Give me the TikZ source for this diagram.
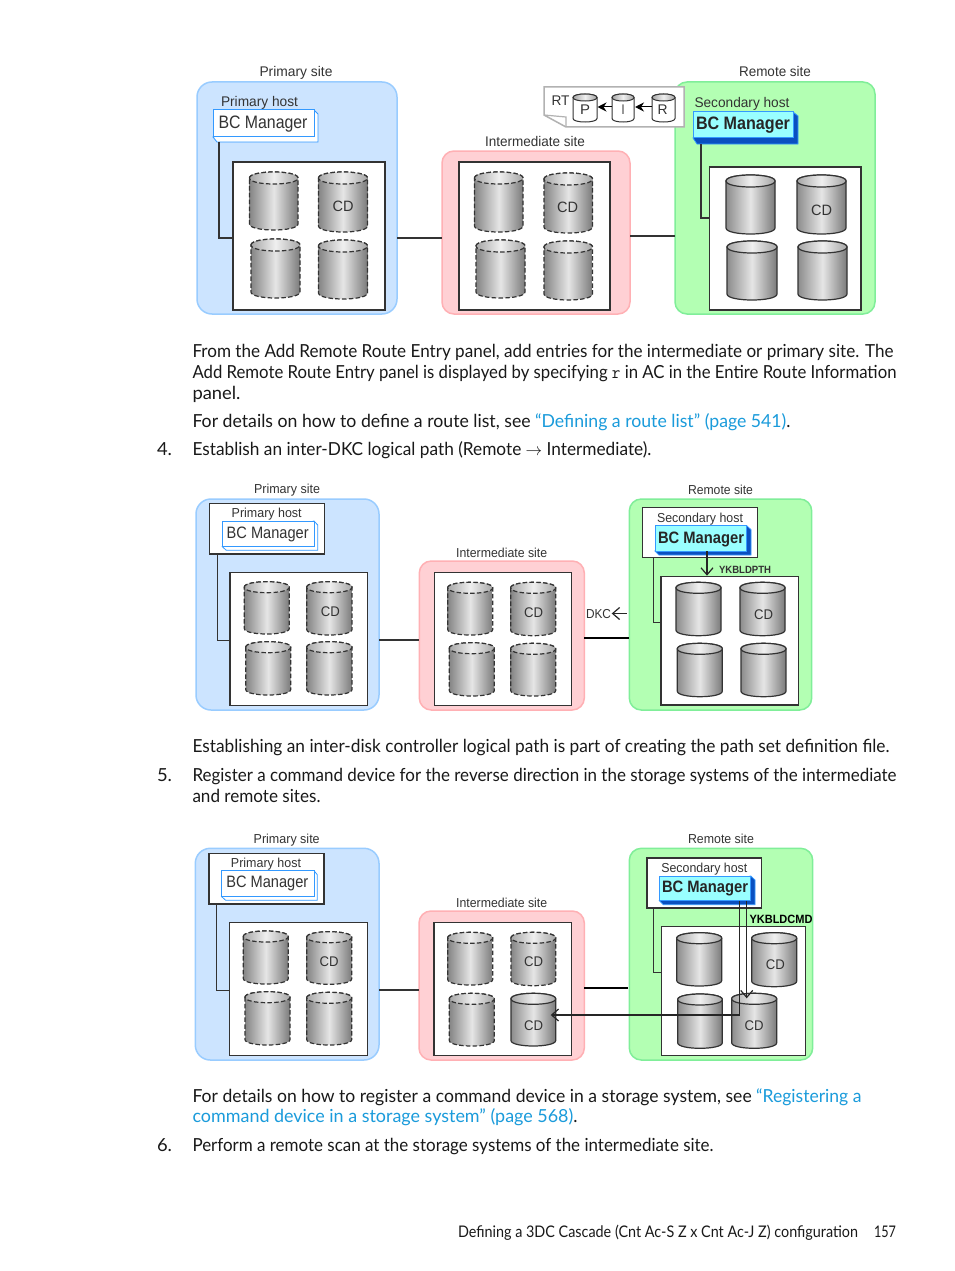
\documentclass[tikz,border=0pt]{standalone}
\usepackage{fontspec}
\usepackage{graphicx}
\setmainfont{Lato}
\newfontfamily\dgf{Liberation Sans}
\usetikzlibrary{arrows.meta}
\definecolor{siteB}{HTML}{CCE4FF}\definecolor{siteBl}{HTML}{99CCFF}
\definecolor{siteR}{HTML}{FFD0D4}\definecolor{siteRl}{HTML}{FFB0B4}
\definecolor{siteG}{HTML}{B3FFB3}\definecolor{siteGl}{HTML}{80EE99}
\definecolor{linkc}{HTML}{1A9BDB}\definecolor{dk}{HTML}{333333}
\definecolor{cyanf}{HTML}{99FFFF}\definecolor{bcb}{HTML}{3399FF}\definecolor{bcd}{HTML}{0A50C0}
\tikzset{
  x=1pt,y=-1pt,
  boxn/.style={draw,inner sep=0pt,outer sep=0pt,anchor=north west},
  sitebl/.style={boxn,fill=siteB,draw=siteBl,line width=1.5pt,rounded corners=15pt},
  sitered/.style={boxn,fill=siteR,draw=siteRl,line width=1.5pt,rounded corners=12pt},
  sitegr/.style={boxn,fill=siteG,draw=siteGl,line width=1.5pt,rounded corners=12pt},
  store/.style={boxn,fill=white,draw=dk,line width=1.2pt},
  hostb/.style={boxn,fill=white,draw=dk,line width=1.2pt},
  conn/.style={draw=dk,line width=1.2pt},
  thick link/.style={draw=black,line width=2.2pt},
  arr/.style={draw=black!85,line width=1.2pt,-{Straight Barb[length=7pt,width=12pt]}},
  fillarr/.style={draw=black,line width=1pt,-{Stealth[length=9pt,width=9pt]}},
  dcyl/.style={draw=dk,line width=1.2pt,dash pattern=on 4.5pt off 2.3pt,left color=black!48,right color=black!52,middle color=black!10},
  scyl/.style={draw=dk,line width=1.2pt,left color=black!45,right color=black!52,middle color=black!10},
  mcyl/.style={draw=dk,line width=1pt,left color=white,right color=white,middle color=white},
  ctop/.style={left color=black!35,right color=black!35,middle color=black!6},
  lab/.style={inner sep=0pt,outer sep=0pt,text=dk,font=\dgf,yshift=-1.5pt},
  body/.style={inner sep=0pt,outer sep=0pt,anchor=base west,text=black!90},
}
\newcommand{\bx}[6]{% name style x0 y0 x1 y1
  \pgfmathsetmacro\bxw{#5-#3}\pgfmathsetmacro\bxh{#6-#4}
  \node[#2,minimum width=\bxw pt,minimum height=\bxh pt] (#1) at (#3,#4) {};}
\newcommand{\cyl}[6]{% x0 y0 x1 y1 ry style
  \pgfmathsetmacro\cya{#2+#5}\pgfmathsetmacro\cyb{#4-#5}
  \pgfmathsetmacro\cyc{#2+#5-#5*4/3}\pgfmathsetmacro\cyd{#2+#5+#5*4/3}\pgfmathsetmacro\cye{#4-#5+#5*4/3}
  \path[#6] (#1,\cya) .. controls (#1,\cyc) and (#3,\cyc) .. (#3,\cya) -- (#3,\cyb)
     .. controls (#3,\cye) and (#1,\cye) .. (#1,\cyb) -- cycle;
  \path[#6,ctop] (#1,\cya) .. controls (#1,\cyc) and (#3,\cyc) .. (#3,\cya)
     .. controls (#3,\cyd) and (#1,\cyd) .. (#1,\cya) -- cycle;}
\newcommand{\bcbox}[9]{% name x0 y0 x1 y1 x2 y2 frontstyle sidecolor
  \pgfmathsetmacro\bca{#3+4}\pgfmathsetmacro\bcb{#2+4}
  \path[fill=#9,draw=bcb,line width=.8pt] (#4,#3) -- (#6,\bca) -- (#6,#7) -- (\bcb,#7) -- (#2,#5) -- cycle;
  \bx{#1}{#8}{#2}{#3}{#4}{#5}}
\newcommand{\fw}[2]{\resizebox{#1pt}{\height}{#2}}
\newcommand{\lt}[7]{\node[lab,#7] (#1) at (#2,#3) {\fontsize{#5}{#5}\selectfont\fw{#4}{\vphantom{Hg}#6}};}
\newcommand{\tx}[5]{\node[body] (#1) at (#2,#3) {\fontsize{18}{18}\selectfont\fw{#4}{#5}};}
\tikzset{bcwhite/.style={boxn,fill=white,draw=bcb,line width=1pt},bccyan/.style={boxn,fill=cyanf,draw=bcb,line width=1pt}}
\begin{document}
\begin{tikzpicture}
\useasboundingbox[fill=white] (0,0) rectangle (954,1271);
% ---------- diagram 1
\bx{pa}{sitebl}{197}{82}{397}{314}
\bx{ia}{sitered}{442}{151}{630}{314}
\bx{ra}{sitegr}{675}{82}{875}{314}
\lt{pal}{296}{71}{73}{14}{Primary site}{}
\lt{ial}{535}{141}{100}{14}{Intermediate site}{}
\lt{ral}{775}{71}{72}{14}{Remote site}{}
\lt{phal}{259.5}{101}{77}{14}{Primary host}{}
\lt{shal}{742}{102}{95}{14}{Secondary host}{}
\bx{psa}{store}{233}{162}{385}{310}
\bx{isa}{store}{459}{162}{610}{310}
\bx{rsa}{store}{709.5}{167}{861}{310}
\bcbox{pba}{213}{110}{314}{137}{318}{142}{bcwhite}{white}
\bcbox{rba}{693}{112}{793}{138}{798}{144}{bccyan}{bcd}
\lt{pbal}{263}{123}{89}{18}{BC Manager}{}
\lt{rbal}{743}{124}{94}{18}{\bfseries BC Manager}{text=black!85}
\coordinate (a1) at (219,142); \coordinate (a2) at (233,238);
\draw[conn] (a1) |- (a2);
\coordinate (a3) at (701,144); \coordinate (a4) at (709.5,218);
\draw[conn] (a3) |- (a4);
\coordinate (a5) at (397,238); \coordinate (a6) at (442,238);
\draw[conn] (a5) -- (a6);
\coordinate (a7) at (630,236); \coordinate (a8) at (675,236);
\draw[conn] (a7) -- (a8);
\cyl{249.5}{172}{298}{230}{6}{dcyl}\cyl{318.5}{172}{367.5}{232}{6}{dcyl}
\cyl{251}{239}{300}{298}{6}{dcyl}\cyl{318.5}{240}{367.5}{299}{6}{dcyl}
\cyl{474.5}{172}{523}{232}{6}{dcyl}\cyl{544}{173}{592.5}{233}{6}{dcyl}
\cyl{476}{240}{525}{298}{6}{dcyl}\cyl{544}{241}{592.5}{300}{6}{dcyl}
\cyl{726}{175}{775}{234}{6}{scyl}\cyl{797}{175}{846}{234}{6}{scyl}
\cyl{727}{241}{777}{300}{6}{scyl}\cyl{798}{241}{847}{300}{6}{scyl}
\lt{cda1}{343}{206}{21}{15}{CD}{}
\lt{cda2}{567.5}{207}{21}{15}{CD}{}
\lt{cda3}{821.5}{210}{21}{15}{CD}{}
% route table note
\path[fill=white,draw=gray!60,line width=1.5pt] (544,87) -- (684,87) -- (684,127) -- (566,127) -- (544,115) -- cycle;
\path[draw=gray!60,line width=1.2pt] (544,115) -- (566,117) -- (566,127);
\lt{rt}{560.5}{101}{18}{14}{RT}{}
\cyl{573}{94}{597}{122}{3.5}{mcyl}\cyl{612}{94}{634}{122}{3.5}{mcyl}\cyl{652}{94}{675}{122}{3.5}{mcyl}
\lt{rtp}{585}{110}{10}{14}{P}{}
\lt{rti}{623}{110}{3}{14}{I}{}
\lt{rtr}{662.5}{110}{10}{14}{R}{}
\coordinate (n1) at (612,107); \coordinate (n2) at (597.5,107);
\draw[fillarr] (n1) -- (n2);
\coordinate (n3) at (652,107); \coordinate (n4) at (635,107);
\draw[fillarr] (n3) -- (n4);
% ---------- diagram 2
\bx{pb}{sitebl}{196}{499}{379}{710}
\bx{ib}{sitered}{419.3}{561}{584.3}{710}
\bx{rb}{sitegr}{629.3}{499}{811.7}{710}
\lt{pbl}{287}{489}{66}{13}{Primary site}{}
\lt{ibl}{501.7}{552.7}{91}{13}{Intermediate site}{}
\lt{rbl}{720.5}{489.3}{65}{13}{Remote site}{}
\bx{phb}{hostb}{209.3}{503.3}{324.3}{554}
\bx{shb}{hostb}{642.7}{507.7}{757.3}{557.7}
\lt{phbl}{266.7}{512.7}{70}{13}{Primary host}{}
\lt{shbl}{700}{517.3}{86}{13}{Secondary host}{}
\bx{psb}{store}{230}{572.3}{367.7}{705.7}
\bx{isb}{store}{434.3}{572.3}{571.7}{705.7}
\bx{rsb}{store}{661}{576.7}{798.7}{705}
\bcbox{pbb}{222.3}{521}{314}{546.7}{317.7}{550.3}{bcwhite}{white}
\bcbox{rbb}{655}{525.7}{746.7}{551}{751}{555}{bccyan}{bcd}
\lt{pbbl}{267.7}{532.5}{82}{16.5}{BC Manager}{}
\lt{rbbl}{701}{538}{86}{16.5}{\bfseries BC Manager}{text=black!85}
\coordinate (b1) at (217.3,554); \coordinate (b2) at (230,640.7);
\draw[conn] (b1) |- (b2);
\coordinate (b3) at (653.3,557.7); \coordinate (b4) at (661,622.3);
\draw[conn] (b3) |- (b4);
\coordinate (b5) at (379,640); \coordinate (b6) at (419.3,640);
\draw[conn] (b5) -- (b6);
\coordinate (b7) at (584.3,638.3); \coordinate (b8) at (629.3,638.3);
\draw[thick link] (b7) -- (b8);
\coordinate (b9) at (707,551); \coordinate (b10) at (707,575.7);
\draw[arr] (b9) -- (b10);
\lt{ypth}{745}{569.3}{52}{10.5}{\bfseries YKBLDPTH}{}
\lt{dkc}{598.5}{613.5}{25}{13}{DKC}{}
\coordinate (b11) at (626.7,613.5); \coordinate (b12) at (611.7,613.5);
\draw[arr] (b11) -- (b12);
\cyl{244.3}{581.7}{289.3}{634}{5.5}{dcyl}\cyl{306.7}{581.7}{352}{635}{5.5}{dcyl}
\cyl{245.7}{641.7}{290.7}{695}{5.5}{dcyl}\cyl{306.7}{641.7}{352}{695}{5.5}{dcyl}
\cyl{447.7}{582.3}{492.7}{635}{5.5}{dcyl}\cyl{510.7}{582.3}{555.7}{635.7}{5.5}{dcyl}
\cyl{449.3}{642.7}{494.3}{696}{5.5}{dcyl}\cyl{510.7}{643.3}{555.7}{696}{5.5}{dcyl}
\cyl{676}{582.3}{721}{635.7}{5.5}{scyl}\cyl{740}{582.3}{785}{635.7}{5.5}{scyl}
\cyl{677.3}{643.3}{722.3}{696.7}{5.5}{scyl}\cyl{741}{643.3}{786}{696.7}{5.5}{scyl}
\lt{cdb1}{330.3}{611.7}{19}{14}{CD}{}
\lt{cdb2}{533.7}{612.3}{19}{14}{CD}{}
\lt{cdb3}{763.7}{615}{19}{14}{CD}{}
% ---------- diagram 3
\bx{pc}{sitebl}{195.3}{848.3}{379}{1060}
\bx{ic}{sitered}{419}{911}{584.3}{1060}
\bx{rc}{sitegr}{629.3}{848.3}{812.7}{1060}
\lt{pcl}{286.7}{839}{66}{13}{Primary site}{}
\lt{icl}{501.7}{902.3}{91}{13}{Intermediate site}{}
\lt{rcl}{721}{839}{66}{13}{Remote site}{}
\bx{phc}{hostb}{209}{853.3}{324}{904}
\bx{shc}{hostb}{647}{858}{761.7}{908}
\lt{phcl}{266}{862.3}{70}{13}{Primary host}{}
\lt{shcl}{704.3}{867.3}{86}{13}{Secondary host}{}
\bx{psc}{store}{229.3}{922.3}{367.3}{1055.7}
\bx{isc}{store}{434}{922.3}{571.7}{1055.7}
\bx{rsc}{store}{661.7}{926.7}{805.7}{1055.7}
\bcbox{pbc}{221.7}{870.7}{314}{896.7}{317.3}{900.3}{bcwhite}{white}
\bcbox{rbc}{659.3}{876}{750.7}{900.7}{755}{904.7}{bccyan}{bcd}
\lt{pbcl}{267.3}{882.3}{82}{16.5}{BC Manager}{}
\lt{rbcl}{705}{887.3}{86}{16.5}{\bfseries BC Manager}{text=black!85}
\coordinate (c1) at (216.7,904); \coordinate (c2) at (229.3,990.7);
\draw[conn] (c1) |- (c2);
\coordinate (c3) at (653.3,908); \coordinate (c4) at (661.7,972.7);
\draw[conn] (c3) |- (c4);
\coordinate (c5) at (379,990); \coordinate (c6) at (419,990);
\draw[conn] (c5) -- (c6);
\coordinate (c7) at (584,988.3); \coordinate (c8) at (628.3,988.3);
\draw[thick link] (c7) -- (c8);
\cyl{243.3}{931}{288.3}{984}{5.5}{dcyl}\cyl{306.7}{931.7}{351.7}{984.3}{5.5}{dcyl}
\cyl{245}{991.7}{290}{1045}{5.5}{dcyl}\cyl{306.7}{992.3}{351.7}{1045}{5.5}{dcyl}
\cyl{447.7}{932.3}{492.7}{985}{5.5}{dcyl}\cyl{511}{932.3}{555.7}{985.7}{5.5}{dcyl}
\cyl{449.3}{993.3}{494.3}{1046}{5.5}{dcyl}\cyl{511}{993.3}{555.7}{1046}{5.5}{scyl}
\cyl{676.7}{932.7}{721.7}{986}{5.5}{scyl}\cyl{751.7}{932.7}{796.7}{986.7}{5.5}{scyl}
\cyl{677.7}{994}{722.3}{1048.3}{5.5}{scyl}\cyl{731.7}{993.3}{776.7}{1048.3}{5.5}{scyl}
\lt{cdc1}{329}{961.7}{19}{14}{CD}{}
\lt{cdc2}{533.7}{962}{19}{14}{CD}{}
\lt{cdc3}{533.7}{1025.7}{19}{14}{CD}{}
\lt{cdc4}{775.3}{965}{19}{14}{CD}{}
\lt{cdc5}{754}{1026}{19}{14}{CD}{}
\lt{ycmd}{781}{919}{63}{12}{\bfseries YKBLDCMD}{text=black}
\coordinate (c9) at (739.3,900.7); \coordinate (c10) at (550.7,1015);
\draw[arr] (c9) |- (c10);
\coordinate (c11) at (746.7,900.7); \coordinate (c12) at (746.7,998.3);
\draw[arr] (c11) -- (c12);
% ---------- body text
\tx{t1}{192.5}{357}{701}{From the Add Remote Route Entry panel, add entries for the intermediate or primary site. The}
\tx{t2}{192.5}{378}{704}{Add Remote Route Entry panel is displayed by specifying {\ttfamily r} in AC in the Entire Route Information}
\tx{t3}{192.5}{399}{48}{panel.}
\tx{t4}{192.5}{427}{598}{For details on how to define a route list, see \textcolor{linkc}{“Defining a route list” (page 541)}.}
\tx{n4}{157}{455}{15}{4.}
\tx{t5}{192.5}{455}{459}{Establish an inter-DKC logical path (Remote $\rightarrow$ Intermediate).}
\tx{t6}{192.5}{752}{697}{Establishing an inter-disk controller logical path is part of creating the path set definition file.}
\tx{n5}{157}{781}{15}{5.}
\tx{t7}{192.5}{781}{704}{Register a command device for the reverse direction in the storage systems of the intermediate}
\tx{t8}{192.5}{802}{128}{and remote sites.}
\tx{t9}{192.5}{1102}{669}{For details on how to register a command device in a storage system, see \textcolor{linkc}{“Registering a}}
\tx{t10}{192.5}{1122}{385}{\textcolor{linkc}{command device in a storage system” (page 568)}.}
\tx{n6}{157}{1151}{15}{6.}
\tx{t11}{192.5}{1151}{521}{Perform a remote scan at the storage systems of the intermediate site.}
\node[body] (f1) at (458,1237) {\fontsize{16}{16}\selectfont\fw{400}{Defining a 3DC Cascade (Cnt Ac-S Z x Cnt Ac-J Z) configuration}};
\node[body] (f2) at (874,1237) {\fontsize{16}{16}\selectfont\fw{22}{157}};
\end{tikzpicture}
\end{document}
